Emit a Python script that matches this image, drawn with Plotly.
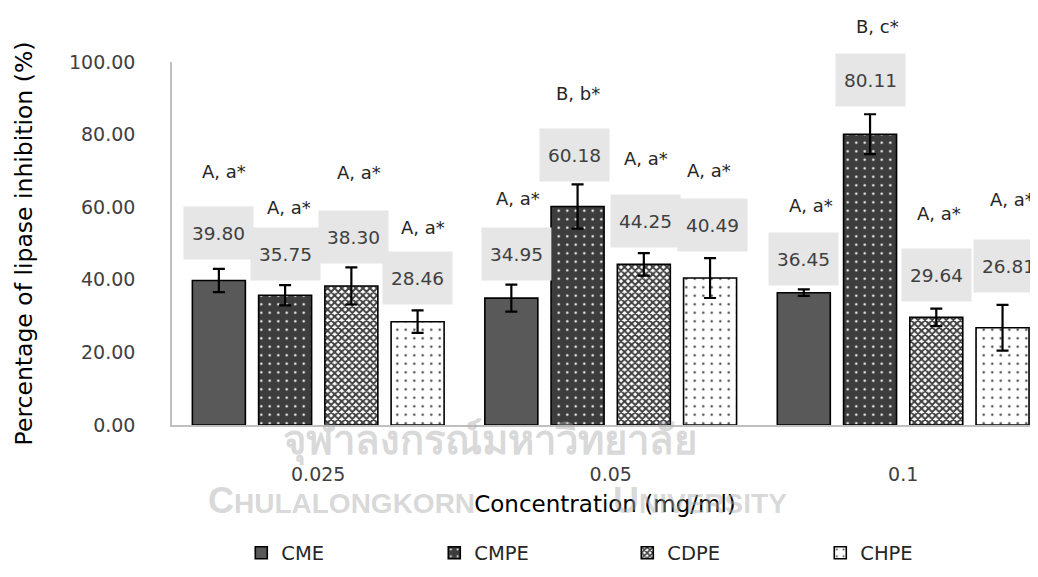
import plotly.graph_objects as go

# ---------------- data ----------------
categories = ["0.025", "0.05", "0.1"]
series = ["CME", "CMPE", "CDPE", "CHPE"]

cme = [39.80, 34.95, 36.45]
cmpe = [35.75, 60.18, 80.11]
cdpe = [38.30, 44.25, 29.64]
chpe = [28.46, 40.49, 26.81]

cme_err = [3.2, 3.7, 0.9]
cmpe_err = [2.8, 6.1, 5.5]
cdpe_err = [5.1, 3.1, 2.4]
chpe_err = [3.1, 5.5, 6.3]

cme_sig = ["A, a*", "A, a*", "A, a*"]
cmpe_sig = ["A, a*", "B, b*", "B, c*"]
cdpe_sig = ["A, a*", "A, a*", "A, a*"]
chpe_sig = ["A, a*", "A, a*", "A, a*"]

values = [cme, cmpe, cdpe, chpe]
errors = [cme_err, cmpe_err, cdpe_err, chpe_err]
sigs = [cme_sig, cmpe_sig, cdpe_sig, chpe_sig]

# ---------------- label placement (layout, axis units / px shifts) ----------------
value_label_y = [[53.0, 47.2, 45.6], [47.2, 74.3, 95.0], [51.9, 56.1, 41.2], [40.6, 55.2, 43.9]]
sig_label_y = [[69.9, 62.4, 60.5], [59.9, 91.4, 109.7], [69.6, 73.5, 58.3], [54.4, 70.2, 62.2]]
value_label_dx = [[0, 5, 0], [0, -3, 0], [2, 2, 0], [0, 2, 6]]
sig_label_dx = [[5, 7, 7], [4, 0, 7], [8, 2, 3], [5, -1, 9]]

# ---------------- styles ----------------
FONT = "DejaVu Sans"
bargap = 0.094
YMAX = 100
styles = [
    dict(color="#595959", pattern=None),
    dict(color="#3d3d3d", pattern=dict(shape=".", fgcolor="white", bgcolor="#3d3d3d", size=8.5, solidity=0.06, fillmode="replace")),
    dict(color="white", pattern=dict(shape="x", fgcolor="#3d3d3d", bgcolor="white", size=5, solidity=0.62, fillmode="replace")),
    dict(color="white", pattern=dict(shape=".", fgcolor="#3d3d3d", bgcolor="white", size=8.5, solidity=0.06, fillmode="replace")),
]

fig = go.Figure()
xs = list(range(len(categories)))
for i, name in enumerate(series):
    marker = dict(color=styles[i]["color"], line=dict(color="black", width=1.6))
    if styles[i]["pattern"] is not None:
        marker["pattern"] = styles[i]["pattern"]
    fig.add_trace(go.Bar(
        x=xs, y=values[i], name=name, marker=marker,
        error_y=dict(type="data", array=errors[i], color="black", thickness=2.2, width=6),
    ))

slot = (1 - bargap) / len(series)
annotations = []

# watermark (faint)
wm_color = "rgba(170,170,170,0.45)"
annotations.append(dict(
    x=0.367, y=-0.045, xref="paper", yref="paper", xanchor="center", yanchor="middle",
    showarrow=False, text="<b>จุฬาลงกรณ์มหาวิทยาลัย</b>",
    font=dict(size=40, color=wm_color),
))
annotations.append(dict(
    x=0.196, y=-0.209, xref="paper", yref="paper", xanchor="center", yanchor="middle",
    showarrow=False, text="<b><span style='font-size:36px'>C</span>HULALONGKORN</b>",
    font=dict(family="Liberation Sans", size=28, color=wm_color),
))
annotations.append(dict(
    x=0.61, y=-0.209, xref="paper", yref="paper", xanchor="center", yanchor="middle",
    showarrow=False, text="<b><span style='font-size:36px'>U</span>NIVERSITY</b>",
    font=dict(family="Liberation Sans", size=28, color=wm_color),
))

for i in range(len(series)):
    for g in range(len(categories)):
        xc = g + (i - (len(series) - 1) / 2) * slot
        annotations.append(dict(
            x=xc, y=value_label_y[i][g] / YMAX, xref="x", yref="paper",
            text=f"{values[i][g]:.2f}", showarrow=False,
            xanchor="center", yanchor="middle",
            xshift=value_label_dx[i][g],
            font=dict(family=FONT, size=18.5, color="#404040"),
            bgcolor="#e6e6e6", width=65, height=48, borderpad=2,
        ))
        annotations.append(dict(
            x=xc, y=sig_label_y[i][g] / YMAX, xref="x", yref="paper",
            text=sigs[i][g], showarrow=False,
            xanchor="center", yanchor="middle",
            xshift=sig_label_dx[i][g],
            font=dict(family=FONT, size=18, color="#262626"),
        ))

fig.update_layout(
    width=1030, height=569,
    margin=dict(l=164, r=0, t=54, b=152),
    paper_bgcolor="white", plot_bgcolor="white",
    barmode="group", bargap=bargap, bargroupgap=0.2,
    font=dict(family=FONT, size=19, color="#404040"),
    annotations=annotations,
    showlegend=True,
    legend=dict(
        orientation="h", x=0.08, y=-0.353, xanchor="left", yanchor="middle",
        font=dict(family=FONT, size=19.5, color="#262626"),
        entrywidth=148, traceorder="normal",
    ),
    xaxis=dict(
        range=[-0.5, 2.461], tickvals=xs, ticktext=categories,
        showline=True, linecolor="#bfbfbf", linewidth=1.5, showgrid=False, zeroline=False,
        ticks="", ticklabelstandoff=31,
        tickfont=dict(family=FONT, size=19, color="#404040"),
        title=dict(text="Concentration (mg/ml)", font=dict(family=FONT, size=23, color="#000000"), standoff=12),
    ),
    yaxis=dict(
        range=[0, YMAX], tickvals=[0, 20, 40, 60, 80, 100], tickformat=".2f",
        showline=True, linecolor="#bfbfbf", linewidth=1.5, showgrid=False, zeroline=False,
        ticks="", ticklabelstandoff=31,
        tickfont=dict(family=FONT, size=19, color="#404040"),
        title=dict(text="Percentage of lipase inhibition (%)", font=dict(family=FONT, size=23.5, color="#000000"), standoff=30),
    ),
)

fig.write_html("out.html")
